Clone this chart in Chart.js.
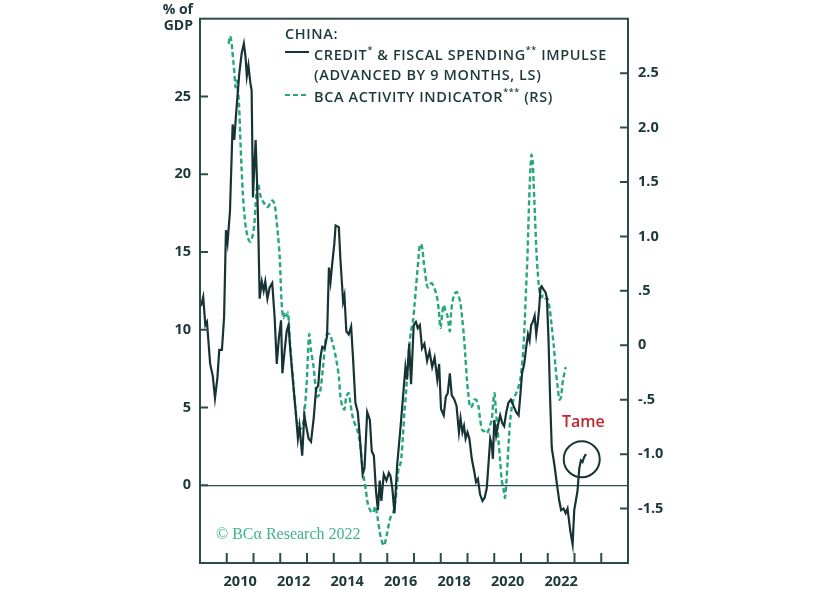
<!DOCTYPE html>
<html>
<head>
<meta charset="utf-8">
<script src="https://cdn.jsdelivr.net/npm/chart.js@4.4.1/dist/chart.umd.min.js"></script>
<style>
html,body{margin:0;padding:0;background:#fff;}
#wrap{width:824px;height:590px;}
</style>
</head>
<body>
<div id="wrap"><canvas id="chart" width="824" height="590"></canvas></div>
<script>
// credit & fiscal spending impulse, % of GDP, advanced 9 months (LS)
const creditDates = [2009.0,2009.05,2009.12,2009.2,2009.26,2009.38,2009.48,2009.56,2009.65,2009.72,2009.82,2009.9,2009.97,2010.03,2010.12,2010.22,2010.28,2010.35,2010.47,2010.56,2010.64,2010.7,2010.75,2010.81,2010.88,2010.93,2010.98,2011.03,2011.08,2011.13,2011.18,2011.23,2011.31,2011.38,2011.44,2011.52,2011.6,2011.7,2011.79,2011.87,2011.95,2012.03,2012.08,2012.16,2012.24,2012.31,2012.38,2012.48,2012.58,2012.66,2012.72,2012.82,2012.9,2012.97,2013.06,2013.15,2013.25,2013.34,2013.42,2013.5,2013.57,2013.66,2013.75,2013.82,2013.88,2013.94,2014.02,2014.07,2014.19,2014.25,2014.35,2014.4,2014.47,2014.56,2014.65,2014.72,2014.81,2014.9,2014.97,2015.08,2015.15,2015.25,2015.35,2015.42,2015.5,2015.58,2015.65,2015.72,2015.78,2015.87,2015.97,2016.06,2016.12,2016.19,2016.27,2016.37,2016.49,2016.59,2016.68,2016.74,2016.82,2016.89,2016.99,2017.07,2017.14,2017.22,2017.3,2017.39,2017.49,2017.58,2017.68,2017.77,2017.87,2017.94,2018.01,2018.11,2018.19,2018.26,2018.34,2018.41,2018.51,2018.59,2018.68,2018.74,2018.81,2018.87,2018.93,2019.0,2019.07,2019.16,2019.25,2019.32,2019.39,2019.47,2019.56,2019.64,2019.72,2019.79,2019.85,2019.91,2019.95,2020.0,2020.07,2020.13,2020.22,2020.3,2020.37,2020.45,2020.53,2020.62,2020.72,2020.82,2020.91,2020.97,2021.04,2021.12,2021.19,2021.26,2021.32,2021.38,2021.44,2021.51,2021.57,2021.63,2021.68,2021.73,2021.77,2021.84,2021.92,2021.97,2022.03,2022.09,2022.15,2022.25,2022.34,2022.43,2022.5,2022.59,2022.67,2022.74,2022.84,2022.93,2022.99,2023.05,2023.11,2023.18,2023.24,2023.3,2023.36,2023.43];
const creditImpulse = [11.5,11.6,12.1,10.3,10.5,7.8,7.0,5.6,6.9,8.7,8.7,10.8,16.4,15.6,17.6,23.2,22.2,23.9,26.5,27.8,28.4,27.6,26.3,27.0,25.9,25.4,18.5,20.5,22.2,19.6,16.4,12.0,13.1,12.5,13.1,12.0,12.7,13.0,10.8,7.8,9.5,10.6,7.2,8.6,9.9,10.3,8.6,6.6,4.7,3.0,3.8,1.9,4.5,3.8,3.0,2.8,4.3,6.2,6.4,8.2,8.9,8.8,9.6,14.0,13.1,14.2,15.5,16.7,16.6,14.5,11.8,12.2,9.9,9.7,10.2,8.2,5.3,4.7,3.2,0.7,1.1,4.7,4.2,2.2,1.9,-0.4,-1.6,0.3,-1.0,0.7,0.3,0.8,0.6,-0.2,-1.8,1.3,3.6,5.7,7.6,6.8,9.1,6.5,10.3,10.5,10.1,10.3,8.8,9.1,8.0,8.6,7.6,8.2,6.8,7.8,4.9,4.5,5.7,5.9,7.2,5.8,5.5,5.1,3.4,4.3,3.4,3.8,3.0,3.4,3.0,1.7,0.9,0.2,0.4,-0.6,-1.0,-0.8,-0.2,1.5,3.0,2.6,1.7,4.2,3.2,3.8,4.5,4.0,3.8,4.7,5.3,5.5,5.1,4.7,4.5,5.7,7.2,7.8,8.8,9.7,9.3,10.3,10.5,10.9,9.7,10.5,11.4,12.7,12.8,12.6,12.4,12.0,9.3,5.5,2.4,1.3,0.1,-1.0,-1.6,-1.5,-1.8,-1.5,-2.9,-3.8,-1.6,-1.0,-0.4,1.1,1.6,1.5,1.8,2.0];

// BCA activity indicator (RS)
const activityDates = [2010.07,2010.12,2010.17,2010.21,2010.25,2010.29,2010.33,2010.38,2010.42,2010.46,2010.5,2010.55,2010.6,2010.66,2010.72,2010.8,2010.88,2010.96,2011.03,2011.08,2011.13,2011.18,2011.25,2011.33,2011.41,2011.49,2011.57,2011.65,2011.72,2011.8,2011.86,2011.92,2011.98,2012.05,2012.11,2012.17,2012.23,2012.29,2012.36,2012.48,2012.61,2012.73,2012.85,2012.98,2013.08,2013.15,2013.23,2013.38,2013.48,2013.6,2013.73,2013.85,2014.0,2014.1,2014.19,2014.25,2014.32,2014.4,2014.47,2014.56,2014.62,2014.7,2014.77,2014.87,2014.97,2015.06,2015.12,2015.2,2015.27,2015.37,2015.47,2015.55,2015.65,2015.72,2015.81,2015.87,2015.92,2016.0,2016.07,2016.14,2016.22,2016.31,2016.37,2016.43,2016.49,2016.54,2016.59,2016.64,2016.71,2016.77,2016.83,2016.89,2016.96,2017.02,2017.07,2017.12,2017.17,2017.22,2017.27,2017.32,2017.37,2017.42,2017.47,2017.52,2017.59,2017.67,2017.74,2017.82,2017.87,2017.93,2017.99,2018.05,2018.11,2018.18,2018.24,2018.3,2018.34,2018.39,2018.44,2018.51,2018.59,2018.66,2018.74,2018.8,2018.86,2018.92,2018.98,2019.04,2019.1,2019.17,2019.25,2019.32,2019.41,2019.47,2019.55,2019.62,2019.7,2019.77,2019.85,2019.91,2019.97,2020.01,2020.05,2020.1,2020.16,2020.22,2020.28,2020.35,2020.4,2020.45,2020.5,2020.55,2020.6,2020.66,2020.72,2020.82,2020.91,2020.97,2021.03,2021.09,2021.14,2021.19,2021.24,2021.28,2021.32,2021.36,2021.39,2021.43,2021.47,2021.52,2021.57,2021.62,2021.67,2021.72,2021.78,2021.84,2021.92,2021.99,2022.07,2022.14,2022.22,2022.29,2022.37,2022.44,2022.5,2022.55,2022.62,2022.67];
const activityIndicator = [2.77,2.84,2.8,2.7,2.6,2.49,2.37,2.43,2.34,2.21,1.95,1.65,1.4,1.2,1.07,0.98,0.95,1.0,1.11,1.3,1.45,1.48,1.38,1.33,1.3,1.27,1.28,1.32,1.33,1.28,1.15,1.0,0.81,0.4,0.25,0.3,0.27,0.3,0.04,-0.32,-0.68,-0.77,-0.73,-0.38,0.1,-0.05,-0.17,-0.47,-0.44,-0.2,0.1,0.1,-0.02,-0.14,-0.29,-0.47,-0.56,-0.59,-0.47,-0.44,-0.53,-0.65,-0.71,-0.77,-0.88,-1.09,-1.21,-1.33,-1.45,-1.52,-1.54,-1.48,-1.6,-1.72,-1.81,-1.84,-1.81,-1.72,-1.63,-1.57,-1.54,-1.42,-1.27,-1.12,-1.09,-1.0,-0.82,-0.62,-0.41,-0.17,0.01,0.13,0.22,0.37,0.52,0.66,0.81,0.92,0.93,0.87,0.75,0.66,0.57,0.53,0.56,0.57,0.54,0.48,0.43,0.31,0.16,0.28,0.37,0.31,0.28,0.19,0.13,0.31,0.4,0.47,0.49,0.46,0.38,0.25,0.1,-0.1,-0.32,-0.47,-0.57,-0.56,-0.5,-0.5,-0.56,-0.68,-0.78,-0.79,-0.81,-0.79,-0.73,-0.68,-0.5,-0.44,-0.56,-0.71,-0.88,-1.06,-1.24,-1.33,-1.4,-1.27,-1.06,-0.85,-0.68,-0.56,-0.5,-0.44,-0.38,-0.32,-0.2,-0.02,0.22,0.52,0.81,1.14,1.44,1.65,1.75,1.71,1.5,1.2,0.9,0.69,0.54,0.46,0.44,0.46,0.43,0.43,0.34,0.19,0.01,-0.2,-0.38,-0.5,-0.47,-0.35,-0.26,-0.2];

const xTickYears = [2010,2011,2012,2013,2014,2015,2016,2017,2018,2019,2020,2021,2022,2023,2024];
const xLabelYears = [2010,2012,2014,2016,2018,2020,2022];
const leftTicks = [0,5,10,15,20,25];
const rightTicks = [-1.5,-1,-0.5,0,0.5,1,1.5,2,2.5];
const rightTickLabels = ['-1.5','-1.0','-.5','0','.5','1.0','1.5','2.0','2.5'];

const INK = '#1d3838';
const FRAME = '#2e4b4b';
const SOLID = '#163336';
const GREEN = '#25a67c';
const FONT = '"Open Sans"';
const LEG = 14.5;

function drawSegments(ctx, x, y, segs, size){
  segs.forEach(s => {
    if (s.sup) {
      ctx.font = `600 ${Math.round(size*0.6)}px ${FONT}`;
      ctx.fillText(s.t, x, y - size*0.35);
    } else {
      ctx.font = `600 ${size}px ${FONT}`;
      ctx.fillText(s.t, x, y);
    }
    x += ctx.measureText(s.t).width;
  });
}

const decor = {
  id: 'decor',
  afterDraw(chart){
    const ctx = chart.ctx, a = chart.chartArea;
    const xs = chart.scales.x, yl = chart.scales.y, yr = chart.scales.y1;
    ctx.save();
    // frame
    ctx.strokeStyle = FRAME; ctx.lineWidth = 2;
    ctx.strokeRect(a.left, a.top, a.right - a.left, a.bottom - a.top);
    // inward ticks
    ctx.beginPath();
    leftTicks.forEach(v => { const y = yl.getPixelForValue(v); ctx.moveTo(a.left, y); ctx.lineTo(a.left + 8, y); });
    rightTicks.forEach(v => { const y = yr.getPixelForValue(v); ctx.moveTo(a.right - 8, y); ctx.lineTo(a.right, y); });
    xTickYears.forEach(v => { const x = xs.getPixelForValue(v); ctx.moveTo(x, a.bottom); ctx.lineTo(x, a.bottom - 10); });
    ctx.stroke();

    // left axis title
    ctx.fillStyle = INK; ctx.textAlign = 'right'; ctx.textBaseline = 'middle';
    ctx.font = `bold 14px ${FONT}`;
    ctx.fillText('% of', 193, 10);
    ctx.fillText('GDP', 193, 26);

    // legend
    ctx.textAlign = 'left';
    ctx.letterSpacing = '0.6px';
    ctx.font = `600 ${LEG}px ${FONT}`;
    ctx.fillText('CHINA:', 285, 35);
    ctx.strokeStyle = SOLID; ctx.lineWidth = 2;
    ctx.beginPath(); ctx.moveTo(285, 52); ctx.lineTo(309, 52); ctx.stroke();
    drawSegments(ctx, 314, 56, [{t:'CREDIT'},{t:'*',sup:true},{t:' & FISCAL SPENDING'},{t:'**',sup:true},{t:' IMPULSE'}], LEG);
    drawSegments(ctx, 314, 76, [{t:'(ADVANCED BY 9 MONTHS, LS)'}], LEG);
    ctx.strokeStyle = GREEN; ctx.setLineDash([5,3]);
    ctx.beginPath(); ctx.moveTo(285, 95); ctx.lineTo(307, 95); ctx.stroke();
    ctx.setLineDash([]);
    drawSegments(ctx, 314, 98, [{t:'BCA ACTIVITY INDICATOR'},{t:'***',sup:true},{t:' (RS)'}], LEG);
    ctx.letterSpacing = '0px';

    // annotation
    ctx.fillStyle = '#c0272d';
    ctx.font = `600 16px ${FONT}`;
    ctx.fillText('Tame', 562, 422);
    ctx.strokeStyle = SOLID; ctx.lineWidth = 2;
    ctx.beginPath();
    ctx.arc(xs.getPixelForValue(2023.27), yl.getPixelForValue(1.67), 18, 0, Math.PI*2);
    ctx.stroke();

    // source
    ctx.fillStyle = '#3fb38d';
    ctx.font = `16px "Liberation Serif"`;
    ctx.fillText('\u00A9 BC\u03B1 Research 2022', 216, 535);
    ctx.restore();
  }
};

const tickFont = {family: 'Open Sans', weight: 'bold', size: 14.5};

new Chart(document.getElementById('chart'), {
  type: 'line',
  data: {
    datasets: [
      {
        label: 'Credit & fiscal spending impulse',
        data: creditDates.map((d, i) => ({x: d, y: creditImpulse[i]})),
        yAxisID: 'y', borderColor: SOLID, borderWidth: 2.2, pointRadius: 0, tension: 0
      },
      {
        label: 'BCA activity indicator',
        data: activityDates.map((d, i) => ({x: d, y: activityIndicator[i]})),
        yAxisID: 'y1', borderColor: GREEN, borderWidth: 2.4, borderDash: [5,3], pointRadius: 0, tension: 0.3
      }
    ]
  },
  options: {
    responsive: false,
    animation: false,
    layout: {padding: {top: 7}},
    plugins: {legend: {display: false}, tooltip: {enabled: false}},
    scales: {
      x: {
        type: 'linear', min: 2009, max: 2025,
        afterBuildTicks: s => { s.ticks = xTickYears.map(v => ({value: v})); },
        afterFit: s => { s.height = 27; },
        grid: {display: false, drawTicks: false},
        border: {display: false},
        ticks: {autoSkip: false, maxRotation: 0, padding: 10, labelOffset: 13.4, color: INK, font: tickFont,
          callback: v => xLabelYears.includes(v) ? String(v) : ''}
      },
      y: {
        position: 'left', min: -5, max: 30,
        afterBuildTicks: s => { s.ticks = leftTicks.map(v => ({value: v})); },
        afterFit: s => { s.width = 200; },
        grid: {drawTicks: false, lineWidth: 1.2, color: c => (c.tick && c.tick.value === 0) ? FRAME : 'rgba(0,0,0,0)'},
        border: {display: false},
        ticks: {padding: 9, color: INK, font: tickFont}
      },
      y1: {
        position: 'right', min: -2, max: 3,
        afterBuildTicks: s => { s.ticks = rightTicks.map(v => ({value: v})); },
        afterFit: s => { s.width = 196; },
        grid: {display: false, drawTicks: false},
        border: {display: false},
        ticks: {padding: 10, color: INK, font: tickFont,
          callback: v => rightTickLabels[rightTicks.indexOf(v)]}
      }
    }
  },
  plugins: [decor]
});
</script>
</body>
</html>
